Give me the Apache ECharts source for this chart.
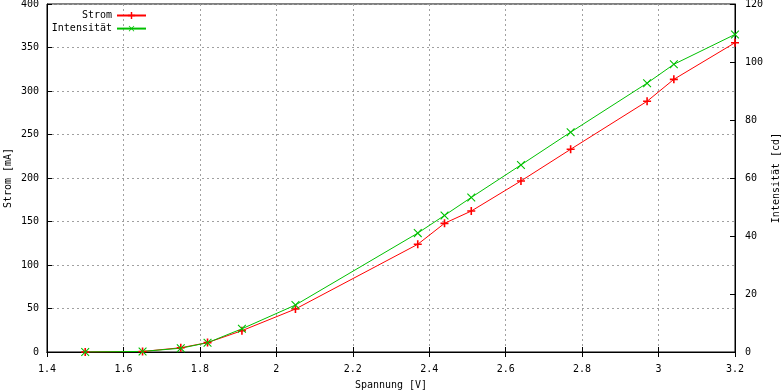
<!DOCTYPE html>
<html>
<head>
<meta charset="utf-8">
<script src="https://cdn.jsdelivr.net/npm/echarts@6/dist/echarts.min.js"></script>
<style>
  html, body { margin: 0; padding: 0; background: #fff; }
  #chart { width: 781px; height: 391px; }
</style>
</head>
<body>
<div id="chart"></div>
<script>
// Spannung [V]
const voltage = [1.5, 1.65, 1.75, 1.82, 1.91, 2.05, 2.37, 2.44, 2.51, 2.64, 2.77, 2.97, 3.04, 3.2]
// Strom [mA]
const current = [0, 0.6, 4.9, 10.8, 24.5, 49.4, 123.8, 147.9, 162, 196.6, 233, 288.2, 313.4, 355.5]
// Intensität [cd]
const intensity = [0, 0.2, 1.3, 3.2, 8.0, 16.2, 41.0, 47.1, 53.3, 64.5, 75.8, 92.7, 99.2, 109.5]

const font = 'DejaVu Sans Mono'
const plusPath = 'path://M4,0h2v4h4v2h-4v4h-2v-4h-4v-2h4z'
const crossPath = 'path://M4.5,0h1v4.5h4.5v1h-4.5v4.5h-1v-4.5h-4.5v-1h4.5z'

const pairs = (ys) => voltage.map((v, i) => [v, ys[i]])

const chart = echarts.init(document.getElementById('chart'))
const txt = { color: '#000', fontFamily: font, fontSize: 10 }

chart.setOption({
  backgroundColor: '#fff',
  animation: false,
  textStyle: { fontFamily: font },
  grid: {
    left: 47, right: 46, top: 4, bottom: 39,
    outerBoundsMode: 'none',
    show: true, borderColor: '#000', borderWidth: 1, backgroundColor: 'transparent'
  },
  legend: [{
    data: ['Strom'],
    right: 634, top: 10.5, align: 'right', padding: 0,
    itemWidth: 29, itemHeight: 9, itemGap: 6,
    textStyle: txt
  }, {
    data: ['Intensität'],
    right: 634, top: 23.5, align: 'right', padding: 0,
    itemWidth: 29, itemHeight: 9, itemGap: 6,
    textStyle: txt
  }],
  xAxis: [{
    type: 'value', min: 1.4, max: 3.2, interval: 0.2,
    name: 'Spannung [V]', nameLocation: 'middle', nameGap: 28,
    nameTextStyle: txt,
    axisLine: { show: true, lineStyle: { color: '#000' } },
    axisTick: { inside: true, length: 5, lineStyle: { color: '#000' } },
    axisLabel: Object.assign({ margin: 12 }, txt),
    splitLine: { show: true, lineStyle: { color: '#a0a0a0', type: [2, 3] } }
  }, {
    type: 'value', min: 1.4, max: 3.2, interval: 0.2, position: 'top',
    axisLine: { show: true, lineStyle: { color: '#000' } },
    axisTick: { inside: true, length: 5, lineStyle: { color: '#000' } },
    axisLabel: { show: false },
    splitLine: { show: false }
  }],
  yAxis: [{
    type: 'value', min: 0, max: 400, interval: 50,
    name: 'Strom [mA]', nameLocation: 'middle', nameGap: 34, nameRotate: 90,
    nameMoveOverlap: false,
    nameTextStyle: txt,
    axisLine: { show: true, lineStyle: { color: '#000' } },
    axisTick: { show: true, inside: true, length: 5, lineStyle: { color: '#000' } },
    axisLabel: Object.assign({ margin: 8 }, txt),
    splitLine: { show: true, lineStyle: { color: '#a0a0a0', type: [2, 3] } }
  }, {
    type: 'value', min: 0, max: 120, interval: 20, position: 'right',
    name: 'Intensität [cd]', nameLocation: 'middle', nameGap: 36, nameRotate: 90,
    nameMoveOverlap: false,
    nameTextStyle: txt,
    axisLine: { show: true, lineStyle: { color: '#000' } },
    axisTick: { show: true, inside: true, length: 5, lineStyle: { color: '#000' } },
    axisLabel: Object.assign({ margin: 10 }, txt),
    splitLine: { show: false }
  }],
  series: [{
    name: 'Strom', type: 'line', xAxisIndex: 0, yAxisIndex: 0,
    data: pairs(current),
    symbol: plusPath, symbolSize: 8,
    itemStyle: { color: '#ff0000' },
    lineStyle: { color: '#ff0000', width: 1 }
  }, {
    name: 'Intensität', type: 'line', xAxisIndex: 0, yAxisIndex: 1,
    data: pairs(intensity),
    symbol: crossPath, symbolSize: 11, symbolRotate: 45,
    itemStyle: { color: '#00c000' },
    lineStyle: { color: '#00c000', width: 1 }
  }]
})
</script>
</body>
</html>
